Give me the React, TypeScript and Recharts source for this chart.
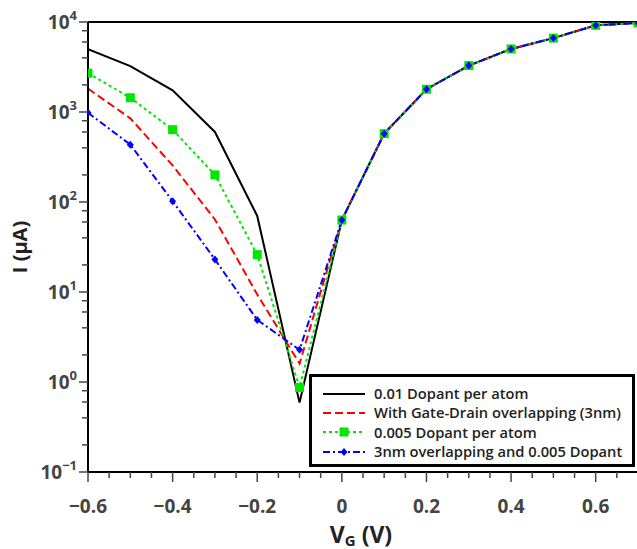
import { LineChart, Line, XAxis, YAxis, ReferenceLine, Legend } from 'recharts';

// gate voltage (V)
const vg = [-0.6, -0.5, -0.4, -0.3, -0.2, -0.1, 0, 0.1, 0.2, 0.3, 0.4, 0.5, 0.6, 0.7];

// drain current (µA)
const dopant001 = [5000, 3240, 1740, 600, 70, 0.59, 63, 575, 1790, 3280, 5020, 6620, 9190, 9760];
const gateDrain3nm = [1820, 850, 255, 64, 9.4, 1.6, 63, 575, 1790, 3280, 5020, 6620, 9190, 9760];
const dopant0005 = [2700, 1440, 636, 200, 26, 0.87, 63, 575, 1790, 3280, 5020, 6620, 9190, 9760];
const overlap3nm0005 = [980, 434, 102, 23, 4.9, 2.28, 63, 575, 1790, 3280, 5020, 6620, 9190, 9760];

const xTicks = [
  -0.6, -0.55, -0.5, -0.45, -0.4, -0.35, -0.3, -0.25, -0.2, -0.15, -0.1, -0.05, 0,
  0.05, 0.1, 0.15, 0.2, 0.25, 0.3, 0.35, 0.4, 0.45, 0.5, 0.55, 0.6, 0.65, 0.7,
];
const yTicks = [
  0.1, 0.2, 0.4, 0.6, 0.8, 1, 2, 4, 6, 8, 10, 20, 40, 60, 80, 100, 200, 400, 600, 800,
  1000, 2000, 4000, 6000, 8000, 10000,
];

const series = [
  { key: 'd001', name: '0.01 Dopant per atom', color: '#000000', dash: undefined, marker: 'none' },
  { key: 'gd', name: 'With Gate-Drain overlapping (3nm)', color: '#ff0000', dash: '8 4', marker: 'none' },
  { key: 'd0005', name: '0.005 Dopant per atom', color: '#00e600', dash: '3 3', marker: 'square' },
  { key: 'ov', name: '3nm overlapping and 0.005 Dopant', color: '#0000ff', dash: '7 3 2 3', marker: 'diamond' },
];

const data = vg.map((v, i) => ({
  vg: v,
  d001: dopant001[i],
  gd: gateDrain3nm[i],
  d0005: dopant0005[i],
  ov: overlap3nm0005[i],
}));

const FONT = '"Open Sans", "DejaVu Sans", sans-serif';
const TICK_COLOR = '#444';

const Marker = ({ cx, cy, kind, color }: any) => {
  if (cx == null || cy == null) return null;
  if (kind === 'square') {
    return <rect x={cx - 4.5} y={cy - 4.5} width={9} height={9} fill={color} />;
  }
  if (kind === 'diamond') {
    return (
      <polygon
        points={`${cx},${cy - 4} ${cx + 3.5},${cy} ${cx},${cy + 4} ${cx - 3.5},${cy}`}
        fill={color}
      />
    );
  }
  return null;
};

const isMajorX = (v: number) => Math.abs(v * 5 - Math.round(v * 5)) < 1e-6;
const isMajorY = (v: number) => Math.abs(Math.log10(v) - Math.round(Math.log10(v))) < 1e-6;

const XTick = ({ x, y, payload }: any) => {
  const v = payload.value;
  const major = isMajorX(v);
  const label = Math.abs(v) < 1e-9 ? '0' : (v < 0 ? '\u2212' : '') + Math.abs(v).toFixed(1);
  return (
    <g>
      <line x1={x} x2={x} y1={y} y2={y + (major ? 10 : 6)} stroke={TICK_COLOR} strokeWidth={1.5} />
      {major && (
        <text x={x} y={y + 41} textAnchor="middle" fontFamily={FONT} fontWeight={700} fontSize={19} fill={TICK_COLOR}>
          {label}
        </text>
      )}
    </g>
  );
};

const YTick = ({ x, y, payload }: any) => {
  const v = payload.value;
  const major = isMajorY(v);
  const exp = Math.round(Math.log10(v));
  return (
    <g>
      <line x1={x} x2={x - (major ? 9 : 6)} y1={y} y2={y} stroke={TICK_COLOR} strokeWidth={1.5} />
      {major && (
        <text x={x - 11} y={y + 7} textAnchor="end" fontFamily={FONT} fontWeight={700} fontSize={19} fill={TICK_COLOR}>
          10
          <tspan dy={-9} fontSize={13}>
            {exp < 0 ? '\u2212' + Math.abs(exp) : String(exp)}
          </tspan>
        </text>
      )}
    </g>
  );
};

const LegendBox = () => (
  <div
    style={{
      boxSizing: 'border-box',
      width: 326,
      height: 93,
      border: '3px solid #000',
      background: '#fff',
      padding: '7px 0 0 10px',
      fontFamily: FONT,
      fontWeight: 600,
      fontSize: 14.7,
      color: '#222',
    }}
  >
    {series.map((s) => (
      <div key={s.key} style={{ display: 'flex', alignItems: 'center', height: 19.3 }}>
        <svg width={44} height={12} style={{ marginRight: 8 }}>
          <line x1={1} x2={43} y1={6} y2={6} stroke={s.color} strokeWidth={2} strokeDasharray={s.dash} />
          <Marker cx={22} cy={6} kind={s.marker} color={s.color} />
        </svg>
        <span style={{ lineHeight: '19px', whiteSpace: 'nowrap' }}>{s.name}</span>
      </div>
    ))}
  </div>
);

export default function App() {
  return (
    <div
      style={{
        position: 'fixed',
        left: 0,
        top: 0,
        width: 637,
        height: 549,
        overflow: 'hidden',
        background: '#fff',
      }}
    >
      <LineChart width={660} height={549} data={data} margin={{ top: 22, right: 22, bottom: 0, left: 0 }}>
        <XAxis
          dataKey="vg"
          type="number"
          domain={[-0.6, 0.7]}
          ticks={xTicks}
          interval={0}
          allowDataOverflow
          height={77}
          tickSize={0}
          tickMargin={0}
          tickLine={false}
          axisLine={{ stroke: '#000', strokeWidth: 2 }}
          tick={<XTick />}
          label={{
            content: () => (
              <text x={361} y={543} textAnchor="middle" fontFamily={FONT} fontWeight={700} fontSize={23} fill="#222">
                V
                <tspan fontSize={15} dy={3}>G</tspan>
                <tspan dy={-3}> (V)</tspan>
              </text>
            ),
          }}
        />
        <YAxis
          type="number"
          scale="log"
          domain={[0.1, 10000]}
          ticks={yTicks}
          interval={0}
          allowDataOverflow
          width={88}
          tickSize={0}
          tickMargin={0}
          tickLine={false}
          axisLine={{ stroke: '#000', strokeWidth: 2 }}
          tick={<YTick />}
          label={{
            content: () => (
              <text
                x={27}
                y={247}
                transform="rotate(-90 27 247)"
                textAnchor="middle"
                fontFamily={FONT}
                fontWeight={700}
                fontSize={20}
                fill="#222"
              >
                I (μA)
              </text>
            ),
          }}
        />
        <ReferenceLine y={10000} stroke="#000" strokeWidth={2} ifOverflow="visible" />
        <ReferenceLine x={0.7} stroke="#000" strokeWidth={2} ifOverflow="visible" />
        {series.map((s) => (
          <Line
            key={s.key}
            dataKey={s.key}
            name={s.name}
            type="linear"
            stroke={s.color}
            strokeWidth={2}
            strokeDasharray={s.dash}
            dot={s.marker === 'none' ? false : (p: any) => <Marker key={p.index} cx={p.cx} cy={p.cy} kind={s.marker} color={s.color} />}
            activeDot={false}
            isAnimationActive={false}
          />
        ))}
        <Legend
          layout="vertical"
          align="center"
          verticalAlign="middle"
          content={<LegendBox />}
          wrapperStyle={{ left: 309, top: 374, width: 326, height: 93, bottom: 'auto', right: 'auto' }}
        />
      </LineChart>
    </div>
  );
}
